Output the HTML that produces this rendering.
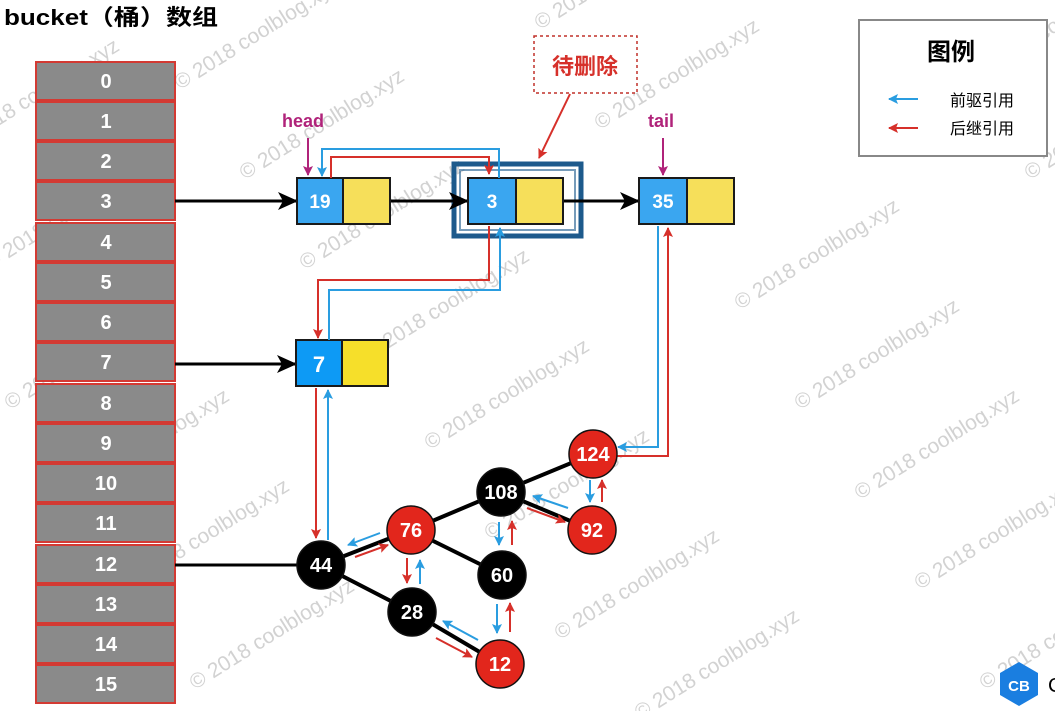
<!DOCTYPE html>
<html><head><meta charset="utf-8"><style>
html,body{margin:0;padding:0;background:#fff;}
svg{display:block;}
text{font-family:"Liberation Sans","Noto Sans CJK SC",sans-serif;}
</style></head><body>
<svg width="1055" height="711" viewBox="0 0 1055 711" xmlns="http://www.w3.org/2000/svg">
<defs>
<marker id="abig" markerWidth="20" markerHeight="18" refX="19" refY="9" orient="auto" markerUnits="userSpaceOnUse"><path d="M0,0 L20,9 L0,18 L5,9 z" fill="#000"/></marker>
<marker id="ar" markerWidth="10" markerHeight="10" refX="9" refY="5" orient="auto" markerUnits="userSpaceOnUse"><path d="M0,0 L10,5 L0,10 L2,5 z" fill="#d6302a"/></marker>
<marker id="abl" markerWidth="10" markerHeight="10" refX="9" refY="5" orient="auto" markerUnits="userSpaceOnUse"><path d="M0,0 L10,5 L0,10 L2,5 z" fill="#2a9de0"/></marker>
<marker id="am" markerWidth="10" markerHeight="10" refX="9" refY="5" orient="auto" markerUnits="userSpaceOnUse"><path d="M0,0 L10,5 L0,10 L2,5 z" fill="#b0237a"/></marker>
</defs>

<g fill="#d2d2d2" font-size="21" font-family="Liberation Sans, sans-serif">
<text transform="translate(180,90) rotate(-32)">© 2018 coolblog.xyz</text>
<text transform="translate(245,180) rotate(-32)">© 2018 coolblog.xyz</text>
<text transform="translate(-40,150) rotate(-32)">© 2018 coolblog.xyz</text>
<text transform="translate(-10,270) rotate(-32)">© 2018 coolblog.xyz</text>
<text transform="translate(10,410) rotate(-32)">© 2018 coolblog.xyz</text>
<text transform="translate(70,500) rotate(-32)">© 2018 coolblog.xyz</text>
<text transform="translate(130,590) rotate(-32)">© 2018 coolblog.xyz</text>
<text transform="translate(195,690) rotate(-32)">© 2018 coolblog.xyz</text>
<text transform="translate(305,270) rotate(-32)">© 2018 coolblog.xyz</text>
<text transform="translate(370,360) rotate(-32)">© 2018 coolblog.xyz</text>
<text transform="translate(430,450) rotate(-32)">© 2018 coolblog.xyz</text>
<text transform="translate(490,540) rotate(-32)">© 2018 coolblog.xyz</text>
<text transform="translate(560,640) rotate(-32)">© 2018 coolblog.xyz</text>
<text transform="translate(600,130) rotate(-32)">© 2018 coolblog.xyz</text>
<text transform="translate(740,310) rotate(-32)">© 2018 coolblog.xyz</text>
<text transform="translate(800,410) rotate(-32)">© 2018 coolblog.xyz</text>
<text transform="translate(860,500) rotate(-32)">© 2018 coolblog.xyz</text>
<text transform="translate(920,590) rotate(-32)">© 2018 coolblog.xyz</text>
<text transform="translate(640,720) rotate(-32)">© 2018 coolblog.xyz</text>
<text transform="translate(1030,180) rotate(-32)">© 2018 coolblog.xyz</text>
<text transform="translate(980,80) rotate(-32)">© 2018 coolblog.xyz</text>
<text transform="translate(985,690) rotate(-32)">© 2018 coolblog.xyz</text>
<text transform="translate(540,30) rotate(-32)">© 2018 coolblog.xyz</text>
</g>

<text x="4" y="25" font-size="22" font-weight="bold" fill="#000" textLength="214" lengthAdjust="spacingAndGlyphs">bucket（桶）数组</text>

<g stroke="#d33a33" stroke-width="2" fill="#8a8a8a">
<rect x="36" y="62" width="139" height="38"/><rect x="36" y="102" width="139" height="38"/>
<rect x="36" y="142" width="139" height="38"/><rect x="36" y="182" width="139" height="38"/>
<rect x="36" y="223" width="139" height="38"/><rect x="36" y="263" width="139" height="38"/>
<rect x="36" y="303" width="139" height="38"/><rect x="36" y="343" width="139" height="38"/>
<rect x="36" y="384" width="139" height="38"/><rect x="36" y="424" width="139" height="38"/>
<rect x="36" y="464" width="139" height="38"/><rect x="36" y="504" width="139" height="38"/>
<rect x="36" y="545" width="139" height="38"/><rect x="36" y="585" width="139" height="38"/>
<rect x="36" y="625" width="139" height="38"/><rect x="36" y="665" width="139" height="38"/>
</g>
<g fill="#fff" font-size="20" font-weight="bold" text-anchor="middle">
<text x="106" y="88">0</text><text x="106" y="128">1</text><text x="106" y="168">2</text><text x="106" y="208">3</text>
<text x="106" y="249">4</text><text x="106" y="289">5</text><text x="106" y="329">6</text><text x="106" y="369">7</text>
<text x="106" y="410">8</text><text x="106" y="450">9</text><text x="106" y="490">10</text><text x="106" y="530">11</text>
<text x="106" y="571">12</text><text x="106" y="611">13</text><text x="106" y="651">14</text><text x="106" y="691">15</text>
</g>

<rect x="454" y="164" width="127" height="72" fill="none" stroke="#1d5a8c" stroke-width="5"/>
<rect x="460" y="170" width="115" height="60" fill="none" stroke="#1d5a8c" stroke-width="2" opacity="0.6"/>

<g stroke="#000" stroke-width="3" fill="none">
<line x1="175" y1="201" x2="297" y2="201" marker-end="url(#abig)"/>
<line x1="390" y1="201" x2="468" y2="201" marker-end="url(#abig)"/>
<line x1="563" y1="201" x2="639" y2="201" marker-end="url(#abig)"/>
<line x1="175" y1="364" x2="296" y2="364" marker-end="url(#abig)"/>
<line x1="175" y1="565" x2="300" y2="565"/>
</g>

<g stroke="#1a1a1a" stroke-width="2">
<rect x="297" y="178" width="46" height="46" fill="#3aa6f0"/><rect x="343" y="178" width="47" height="46" fill="#f6df5a"/>
<rect x="468" y="178" width="48" height="46" fill="#3aa6f0"/><rect x="516" y="178" width="47" height="46" fill="#f6df5a"/>
<rect x="639" y="178" width="48" height="46" fill="#3aa6f0"/><rect x="687" y="178" width="47" height="46" fill="#f6df5a"/>
<rect x="296" y="340" width="46" height="46" fill="#0d9af5"/><rect x="342" y="340" width="46" height="46" fill="#f6df2a"/>
</g>
<g fill="#fff" font-size="19" font-weight="bold" text-anchor="middle">
<text x="320" y="208">19</text><text x="492" y="208">3</text><text x="663" y="208">35</text>
<text x="319" y="372" font-size="22">7</text>
</g>

<g fill="#b0237a" font-size="18" font-weight="bold">
<text x="282" y="127">head</text><text x="648" y="127">tail</text>
</g>
<g stroke="#b0237a" stroke-width="2">
<line x1="308" y1="138" x2="308" y2="175" marker-end="url(#am)"/>
<line x1="663" y1="138" x2="663" y2="175" marker-end="url(#am)"/>
</g>

<rect x="534" y="36" width="103" height="57" fill="#fff" stroke="#c0302a" stroke-width="1.5" stroke-dasharray="3,3"/>
<text x="585" y="74" fill="#d6302a" font-size="22" font-weight="bold" text-anchor="middle">待删除</text>
<line x1="570" y1="94" x2="539" y2="158" stroke="#d6302a" stroke-width="2" marker-end="url(#ar)"/>

<g fill="none" stroke-width="2">
<polyline points="499,178 499,149 322,149 322,176" stroke="#2a9de0" marker-end="url(#abl)"/>
<polyline points="331,178 331,157 489,157 489,174" stroke="#d6302a" marker-end="url(#ar)"/>
<polyline points="489,226 489,280 318,280 318,338" stroke="#d6302a" marker-end="url(#ar)"/>
<polyline points="329,340 329,290 500,290 500,228" stroke="#2a9de0" marker-end="url(#abl)"/>
<polyline points="316,388 316,538" stroke="#d6302a" marker-end="url(#ar)"/>
<polyline points="328,540 328,390" stroke="#2a9de0" marker-end="url(#abl)"/>
<polyline points="658,226 658,447 618,447" stroke="#2a9de0" marker-end="url(#abl)"/>
<polyline points="617,456 668,456 668,228" stroke="#d6302a" marker-end="url(#ar)"/>
</g>

<g stroke="#000" stroke-width="4">
<line x1="321" y1="565" x2="411" y2="530"/>
<line x1="321" y1="565" x2="412" y2="612"/>
<line x1="411" y1="530" x2="501" y2="492"/>
<line x1="411" y1="530" x2="502" y2="575"/>
<line x1="501" y1="492" x2="593" y2="454"/>
<line x1="501" y1="492" x2="592" y2="530"/>
<line x1="412" y1="612" x2="500" y2="664"/>
</g>

<g stroke-width="2" fill="none">
<line x1="380" y1="533" x2="348" y2="545" stroke="#2a9de0" marker-end="url(#abl)"/>
<line x1="355" y1="557" x2="388" y2="545" stroke="#d6302a" marker-end="url(#ar)"/>
<line x1="407" y1="558" x2="407" y2="583" stroke="#d6302a" marker-end="url(#ar)"/>
<line x1="420" y1="584" x2="420" y2="560" stroke="#2a9de0" marker-end="url(#abl)"/>
<line x1="478" y1="640" x2="443" y2="621" stroke="#2a9de0" marker-end="url(#abl)"/>
<line x1="436" y1="638" x2="472" y2="657" stroke="#d6302a" marker-end="url(#ar)"/>
<line x1="497" y1="604" x2="497" y2="633" stroke="#2a9de0" marker-end="url(#abl)"/>
<line x1="510" y1="632" x2="510" y2="603" stroke="#d6302a" marker-end="url(#ar)"/>
<line x1="499" y1="522" x2="499" y2="545" stroke="#2a9de0" marker-end="url(#abl)"/>
<line x1="512" y1="545" x2="512" y2="521" stroke="#d6302a" marker-end="url(#ar)"/>
<line x1="568" y1="508" x2="533" y2="496" stroke="#2a9de0" marker-end="url(#abl)"/>
<line x1="527" y1="508" x2="565" y2="522" stroke="#d6302a" marker-end="url(#ar)"/>
<line x1="590" y1="480" x2="590" y2="502" stroke="#2a9de0" marker-end="url(#abl)"/>
<line x1="602" y1="502" x2="602" y2="480" stroke="#d6302a" marker-end="url(#ar)"/>
</g>

<g stroke="#111" stroke-width="1.5">
<circle cx="321" cy="565" r="24" fill="#000"/>
<circle cx="411" cy="530" r="24" fill="#e2261c"/>
<circle cx="412" cy="612" r="24" fill="#000"/>
<circle cx="502" cy="575" r="24" fill="#000"/>
<circle cx="501" cy="492" r="24" fill="#000"/>
<circle cx="593" cy="454" r="24" fill="#e2261c"/>
<circle cx="592" cy="530" r="24" fill="#e2261c"/>
<circle cx="500" cy="664" r="24" fill="#e2261c"/>
</g>
<g fill="#fff" font-size="20" font-weight="bold" text-anchor="middle">
<text x="321" y="572">44</text><text x="411" y="537">76</text><text x="412" y="619">28</text>
<text x="502" y="582">60</text><text x="501" y="499">108</text><text x="593" y="461">124</text>
<text x="592" y="537">92</text><text x="500" y="671">12</text>
</g>

<rect x="859" y="20" width="188" height="136" fill="#fff" stroke="#888" stroke-width="2"/>
<text x="951" y="60" font-size="24" font-weight="bold" text-anchor="middle">图例</text>
<line x1="918" y1="99" x2="889" y2="99" stroke="#2a9de0" stroke-width="2" marker-end="url(#abl)"/>
<line x1="918" y1="128" x2="889" y2="128" stroke="#d6302a" stroke-width="2" marker-end="url(#ar)"/>
<text x="950" y="106" font-size="16">前驱引用</text>
<text x="950" y="134" font-size="16">后继引用</text>

<polygon points="1019,662 1038,673 1038,695 1019,706 1000,695 1000,673" fill="#1a7ee0"/>
<text x="1019" y="691" fill="#fff" font-size="15" font-weight="bold" text-anchor="middle">CB</text>
<text x="1048" y="692" font-size="20">C</text>
</svg>
</body></html>
